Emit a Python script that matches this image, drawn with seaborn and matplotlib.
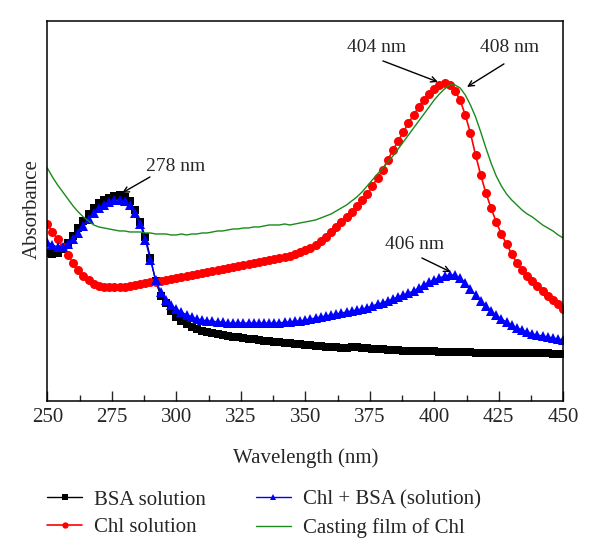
import numpy as np
import matplotlib
matplotlib.use("Agg")
import matplotlib.pyplot as plt
from matplotlib.ticker import MultipleLocator
import seaborn as sns

# wavelength grid (nm), one reading every 2 nm
wavelength = np.arange(250, 451, 2)

bsa_solution = [
    1.69, 1.68, 1.69, 1.73, 1.79, 1.86, 1.94, 2.01, 2.08, 2.14,
    2.19, 2.22, 2.24, 2.26, 2.27, 2.25, 2.21, 2.12, 2.00, 1.85,
    1.64, 1.41, 1.26, 1.19, 1.11, 1.05, 1.01, 0.98, 0.95, 0.93,
    0.91, 0.90, 0.89, 0.88, 0.87, 0.86, 0.855, 0.85, 0.84, 0.835,
    0.83, 0.82, 0.815, 0.81, 0.805, 0.80, 0.795, 0.79, 0.785, 0.78,
    0.775, 0.77, 0.765, 0.76, 0.755, 0.75, 0.75, 0.745, 0.745, 0.75,
    0.75, 0.745, 0.74, 0.735, 0.73, 0.73, 0.725, 0.72, 0.72, 0.715,
    0.715, 0.71, 0.71, 0.71, 0.71, 0.71, 0.705, 0.705, 0.70, 0.70,
    0.70, 0.70, 0.70, 0.695, 0.695, 0.695, 0.69, 0.69, 0.69, 0.69,
    0.69, 0.69, 0.69, 0.69, 0.69, 0.69, 0.69, 0.69, 0.685, 0.685,
    0.685,
]

chl_solution = [
    1.98, 1.90, 1.83, 1.75, 1.67, 1.59, 1.52, 1.46, 1.42, 1.38,
    1.36, 1.35, 1.35, 1.345, 1.35, 1.35, 1.36, 1.37, 1.38, 1.39,
    1.40, 1.40, 1.41, 1.42, 1.43, 1.44, 1.45, 1.46, 1.47, 1.48,
    1.49, 1.50, 1.51, 1.52, 1.53, 1.54, 1.55, 1.56, 1.57, 1.58,
    1.59, 1.60, 1.61, 1.62, 1.63, 1.64, 1.65, 1.66, 1.68, 1.70,
    1.72, 1.74, 1.77, 1.81, 1.85, 1.90, 1.95, 2.00, 2.05, 2.10,
    2.16, 2.22, 2.28, 2.36, 2.44, 2.52, 2.62, 2.72, 2.81, 2.90,
    2.99, 3.07, 3.15, 3.22, 3.28, 3.33, 3.37, 3.39, 3.37, 3.31,
    3.22, 3.07, 2.89, 2.67, 2.47, 2.29, 2.14, 2.00, 1.88, 1.78,
    1.68, 1.59, 1.52, 1.46, 1.41, 1.36, 1.31, 1.26, 1.22, 1.18,
    1.13,
]

chl_bsa_solution = [
    1.80, 1.77, 1.75, 1.75, 1.78, 1.83, 1.89, 1.96, 2.03, 2.09,
    2.14, 2.17, 2.20, 2.22, 2.22, 2.21, 2.17, 2.09, 1.98, 1.82,
    1.62, 1.42, 1.30, 1.22, 1.17, 1.13, 1.10, 1.07, 1.05, 1.03,
    1.02, 1.01, 1.01, 1.00, 1.00, 0.99, 0.99, 0.99, 0.99, 0.99,
    0.99, 0.99, 0.99, 0.99, 0.99, 0.99, 1.00, 1.00, 1.01, 1.01,
    1.02, 1.03, 1.04, 1.05, 1.06, 1.07, 1.08, 1.09, 1.10, 1.11,
    1.12, 1.13, 1.14, 1.16, 1.18, 1.19, 1.21, 1.23, 1.25, 1.27,
    1.29, 1.31, 1.34, 1.37, 1.40, 1.42, 1.44, 1.46, 1.47, 1.47,
    1.44, 1.39, 1.33, 1.27, 1.21, 1.16, 1.11, 1.07, 1.03, 1.00,
    0.97, 0.94, 0.92, 0.90, 0.88, 0.87, 0.86, 0.85, 0.84, 0.83,
    0.82,
]

casting_film = [
    2.54, 2.45, 2.37, 2.30, 2.23, 2.16, 2.10, 2.05, 2.01, 1.97,
    1.95, 1.94, 1.93, 1.92, 1.91, 1.91, 1.90, 1.90, 1.90, 1.89,
    1.89, 1.88, 1.88, 1.88, 1.87, 1.87, 1.88, 1.87, 1.88, 1.88,
    1.89, 1.89, 1.90, 1.91, 1.91, 1.92, 1.93, 1.93, 1.94, 1.94,
    1.95, 1.95, 1.96, 1.97, 1.97, 1.97, 1.98, 1.97, 1.98, 1.99,
    2.00, 2.01, 2.02, 2.04, 2.06, 2.08, 2.11, 2.14, 2.17, 2.21,
    2.25, 2.30, 2.36, 2.42, 2.48, 2.54, 2.60, 2.66, 2.73, 2.80,
    2.87, 2.94, 3.01, 3.08, 3.15, 3.22, 3.28, 3.33, 3.37, 3.37,
    3.34, 3.27, 3.17, 3.05, 2.90, 2.74, 2.59, 2.46, 2.36, 2.28,
    2.22, 2.17, 2.12, 2.08, 2.05, 2.01, 1.97, 1.94, 1.91, 1.87,
    1.84,
]

series_labels = ["BSA solution", "Chl solution", "Chl + BSA (solution)", "Casting film of Chl"]

# peak annotations: label, text position, arrow start, arrow tip (data units)
peak_labels = ["278 nm", "404 nm", "406 nm", "408 nm"]
peak_texts = [(288.3, 2.55), (377.8, 3.74), (392.5, 1.77), (429.3, 3.74)]
arrow_starts = [(289.8, 2.45), (380.1, 3.61), (395.2, 1.64), (427.0, 3.58)]
peak_tips = [(279.0, 2.29), (401.4, 3.40), (406.4, 1.50), (412.7, 3.35)]

sns.set_style("ticks")
plt.rcParams["font.family"] = ["Liberation Serif", "DejaVu Serif"]

fig = plt.figure(figsize=(6.0, 5.59), dpi=100)
ax = fig.add_axes([0.0788, 0.2826, 0.860, 0.680])

sns.lineplot(x=wavelength, y=bsa_solution, ax=ax, color="black", marker="s",
             markersize=5.5, markeredgewidth=0, linewidth=1.0, label=series_labels[0])
sns.lineplot(x=wavelength, y=chl_solution, ax=ax, color="#ff0000", marker="o",
             markersize=6.5, markeredgewidth=0, linewidth=1.2, label=series_labels[1])
sns.lineplot(x=wavelength, y=chl_bsa_solution, ax=ax, color="#0000ff", marker="^",
             markersize=6.5, markeredgewidth=0, linewidth=1.0, label=series_labels[2])
sns.lineplot(x=wavelength, y=casting_film, ax=ax, color="#1a8a1a", linewidth=1.0,
             label=series_labels[3])

for lab, txt, start, tip in zip(peak_labels, peak_texts, arrow_starts, peak_tips):
    ha = "left" if lab == "278 nm" else "center"
    ax.text(txt[0], txt[1], lab, ha=ha, va="center", fontsize=14)
    ax.annotate("", xy=tip, xytext=start,
                arrowprops=dict(arrowstyle="->", color="black", lw=1.0,
                                shrinkA=0, shrinkB=0))

ax.set_xlim(250, 450)
ax.set_ylim(0.21, 4.01)
ax.xaxis.set_major_locator(MultipleLocator(25))
ax.xaxis.set_minor_locator(MultipleLocator(12.5))
ax.tick_params(axis="x", which="major", direction="in", length=7, width=1,
               labelsize=15, pad=5, top=False)
ax.tick_params(axis="x", which="minor", direction="in", length=4, width=1, top=False)
ax.tick_params(axis="y", left=False, labelleft=False)
for sp in ax.spines.values():
    sp.set_visible(True)
    sp.set_linewidth(1.1)
    sp.set_color("black")

ax.set_xlabel("Wavelength (nm)", fontsize=15)
ax.set_ylabel("Absorbance", fontsize=15)
ax.xaxis.set_label_coords(0.5, -0.125)
ax.yaxis.set_label_coords(-0.011, 0.505)

ax.legend(loc="upper left", bbox_to_anchor=(47 / 600, 1 - 490 / 559),
          bbox_transform=fig.transFigure, ncol=2, frameon=False, fontsize=15,
          borderpad=0, borderaxespad=0, handlelength=1.7, handletextpad=0.55,
          columnspacing=2.4, labelspacing=0.4, markerscale=0.7)

fig.savefig("out.png", dpi=100)
